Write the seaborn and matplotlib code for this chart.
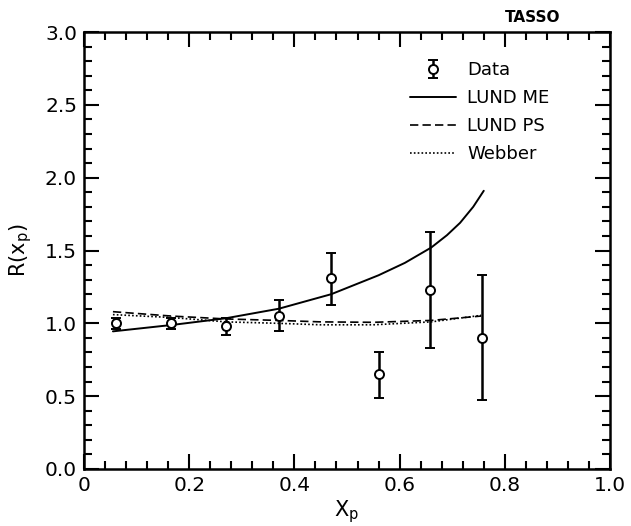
import matplotlib
matplotlib.use("Agg")
import matplotlib.pyplot as plt
import seaborn as sns
import pandas as pd
from matplotlib.ticker import MultipleLocator, FixedLocator, FixedFormatter

# ---- data ----
data_x = [0.060, 0.166, 0.270, 0.371, 0.470, 0.561, 0.658, 0.757]
data_y = [1.00, 1.00, 0.98, 1.05, 1.31, 0.65, 1.23, 0.90]
data_err_lo = [0.04, 0.04, 0.06, 0.10, 0.185, 0.165, 0.40, 0.425]
data_err_hi = [0.04, 0.04, 0.06, 0.11, 0.175, 0.155, 0.395, 0.43]

me_x = [0.055, 0.17, 0.27, 0.37, 0.47, 0.56, 0.61, 0.66, 0.69, 0.715, 0.74, 0.76]
me_y = [0.945, 0.99, 1.035, 1.10, 1.20, 1.33, 1.415, 1.52, 1.605, 1.69, 1.80, 1.91]

ps_x = [0.055, 0.166, 0.27, 0.37, 0.45, 0.55, 0.66, 0.755]
ps_y = [1.08, 1.05, 1.03, 1.02, 1.01, 1.007, 1.02, 1.05]

wb_x = [0.055, 0.166, 0.27, 0.37, 0.45, 0.55, 0.66, 0.755]
wb_y = [1.06, 1.04, 1.01, 1.00, 0.99, 0.99, 1.01, 1.055]

x_ticks = [0, 0.2, 0.4, 0.6, 0.8, 1.0]
x_ticklabels = ["0", "0.2", "0.4", "0.6", "0.8", "1.0"]
y_ticks = [0.0, 0.5, 1.0, 1.5, 2.0, 2.5, 3.0]
y_ticklabels = ["0.0", "0.5", "1.0", "1.5", "2.0", "2.5", "3.0"]

sns.set_theme(style="ticks")
plt.rcParams['font.family'] = ['DejaVu Sans']
plt.rcParams['text.color'] = 'black'
plt.rcParams['axes.labelcolor'] = 'black'

fig = plt.figure(figsize=(6.31, 5.26), dpi=100)
ax = fig.add_axes([84/631, 1 - 469/526, (610-84)/631, (469-32)/526])

me_df = pd.DataFrame({"x": me_x, "y": me_y})
ps_df = pd.DataFrame({"x": ps_x, "y": ps_y})
wb_df = pd.DataFrame({"x": wb_x, "y": wb_y})

sns.lineplot(data=me_df, x="x", y="y", ax=ax, color="black", lw=1.4,
             linestyle="-", label="LUND ME", sort=True)
sns.lineplot(data=ps_df, x="x", y="y", ax=ax, color="black", lw=1.2,
             linestyle=(0, (5, 2.5)), label="LUND PS", sort=True)
sns.lineplot(data=wb_df, x="x", y="y", ax=ax, color="black", lw=1.2,
             linestyle=(0, (1, 1.3)), label="Webber", sort=True)

eb = ax.errorbar(data_x, data_y, yerr=[data_err_lo, data_err_hi], fmt="o",
                 mfc="white", mec="black", mew=1.4, ms=6.5, color="black",
                 elinewidth=1.8, capsize=3.5, capthick=1.8, label="Data", zorder=5)

ax.set_xlim(0, 1.0)
ax.set_ylim(0, 3.0)
ax.xaxis.set_major_locator(FixedLocator(x_ticks))
ax.xaxis.set_major_formatter(FixedFormatter(x_ticklabels))
ax.yaxis.set_major_locator(FixedLocator(y_ticks))
ax.yaxis.set_major_formatter(FixedFormatter(y_ticklabels))
ax.xaxis.set_minor_locator(MultipleLocator(0.04))
ax.yaxis.set_minor_locator(MultipleLocator(0.1))
ax.tick_params(which="both", direction="in", top=True, right=True,
               colors="black", labelcolor="black", labelsize=14.5, width=1.5)
ax.tick_params(which="major", length=11, pad=5)
ax.tick_params(which="minor", length=5.5)
for s in ax.spines.values():
    s.set_linewidth(1.8)
    s.set_color("black")

ax.set_xlabel("X$_{\\mathrm{p}}$", fontsize=15, labelpad=2, color="black")
ax.set_ylabel("R(x$_{\\mathrm{p}}$)", fontsize=15, labelpad=8, color="black")

handles, labels = ax.get_legend_handles_labels()
order = [labels.index(l) for l in ["Data", "LUND ME", "LUND PS", "Webber"]]
leg = ax.legend([handles[i] for i in order], [labels[i] for i in order],
                loc="upper left", bbox_to_anchor=(0.588, 0.97), frameon=False,
                fontsize=13, handlelength=2.6, handletextpad=0.6,
                labelspacing=0.55, labelcolor="black")

fig.text(533/631, 1 - 18/526, "TASSO", ha="center", va="center",
         fontsize=11, fontweight="bold", color="black")

fig.savefig("out.png", dpi=100)
